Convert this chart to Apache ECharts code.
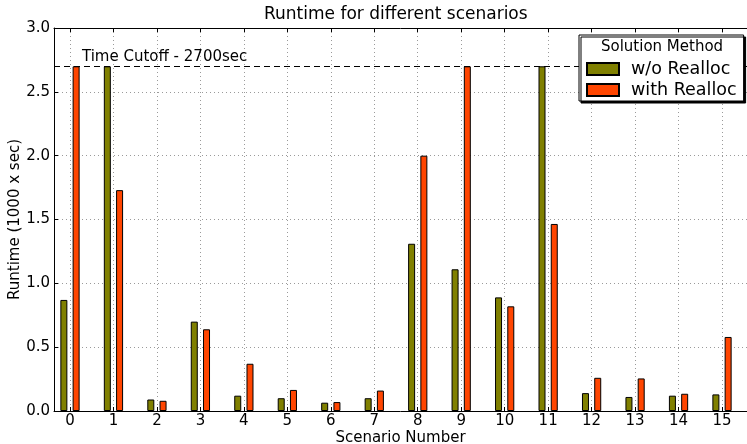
<!DOCTYPE html>
<html>
<head>
<meta charset="utf-8">
<script src="https://cdn.jsdelivr.net/npm/echarts@6/dist/echarts.min.js"></script>
<style>html,body{margin:0;padding:0;background:#fff;}#c{width:747px;height:444px;}</style>
</head>
<body>
<div id="c"></div>
<script>
const scenarios = [0, 1, 2, 3, 4, 5, 6, 7, 8, 9, 10, 11, 12, 13, 14, 15];
const woRealloc = [0.87, 2.70, 0.09, 0.70, 0.12, 0.10, 0.065, 0.10, 1.31, 1.11, 0.89, 2.70, 0.14, 0.11, 0.12, 0.13];
const withRealloc = [2.70, 1.73, 0.08, 0.64, 0.37, 0.165, 0.07, 0.16, 2.00, 2.70, 0.82, 1.465, 0.26, 0.255, 0.135, 0.58];
const yTicks = [0, 0.5, 1.0, 1.5, 2.0, 2.5, 3.0];
const cutoff = 2.7;

const FONT = 'DejaVu Sans';
const chart = echarts.init(document.getElementById('c'), null, {renderer: 'canvas'});
const xMin = -0.368, xMax = 15.575;
const gridStyle = {show: true, lineStyle: {color: '#9a9a9a', type: [1, 3], width: 1}};

chart.setOption({
  animation: false,
  backgroundColor: '#fff',
  title: [
    {text: 'Runtime for different scenarios', left: 264, top: 6, padding: 0,
     textStyle: {fontFamily: FONT, fontSize: 17, fontWeight: 'normal', color: '#000'}},
    {text: 'Solution Method', left: 601, top: 40, padding: 0, z: 30,
     textStyle: {fontFamily: FONT, fontSize: 15, fontWeight: 'normal', color: '#000'}}
  ],
  legend: {
    orient: 'vertical', left: 579, top: 35, z: 20,
    padding: [25, 7, 2, 7], itemGap: 3,
    itemWidth: 32, itemHeight: 12, icon: 'rect',
    backgroundColor: '#fff', borderColor: '#000', borderWidth: 1,
    shadowColor: '#000', shadowBlur: 0, shadowOffsetX: 2, shadowOffsetY: 2,
    textStyle: {fontFamily: FONT, fontSize: 17.5, color: '#000', padding: [0, 0, 0, 7], lineHeight: 18},
    data: ['w/o Realloc', 'with Realloc']
  },
  grid: {left: 54, top: 28, width: 693, bottom: 33, containLabel: false, outerBoundsMode: 'none'},
  xAxis: [
    {type: 'value', min: xMin, max: xMax,
     name: 'Scenario Number', nameLocation: 'middle', nameGap: 20, nameMoveOverlap: false,
     nameTextStyle: {fontFamily: FONT, fontSize: 15, color: '#000'},
     axisLine: {show: true, onZero: false, lineStyle: {color: '#000', width: 1}},
     axisTick: {show: true, inside: true, length: 4, customValues: scenarios, lineStyle: {color: '#000'}},
     axisLabel: {show: true, customValues: scenarios, margin: 3, fontFamily: FONT, fontSize: 15, color: '#000',
                 formatter: v => String(Math.round(v))},
     splitLine: gridStyle},
    {type: 'value', min: xMin, max: xMax, position: 'top',
     axisLine: {show: true, onZero: false, lineStyle: {color: '#000', width: 1}},
     axisTick: {show: true, inside: true, length: 4, customValues: scenarios, lineStyle: {color: '#000'}},
     axisLabel: {show: false, customValues: scenarios},
     splitLine: {show: false}}
  ],
  yAxis: {
    type: 'value', min: 0, max: 3, interval: 0.5,
    name: 'Runtime (1000 x sec)', nameLocation: 'middle', nameGap: 31, nameMoveOverlap: false,
    nameTextStyle: {fontFamily: FONT, fontSize: 15, color: '#000'},
    axisLine: {show: true, onZero: false, lineStyle: {color: '#000', width: 1}},
    axisTick: {show: true, inside: true, length: 4, lineStyle: {color: '#000'}},
    axisLabel: {margin: 4, fontFamily: FONT, fontSize: 15, color: '#000', formatter: v => v.toFixed(1)},
    splitLine: gridStyle
  },
  series: [
    {name: 'w/o Realloc', type: 'bar', xAxisIndex: 0, barWidth: 7, barGap: '75%',
     data: scenarios.map((s, i) => [s, woRealloc[i]]),
     itemStyle: {color: '#808000', borderColor: '#000', borderWidth: 1},
     markLine: {silent: true, symbol: ['none', 'none'], z: 3,
       lineStyle: {color: '#000', type: [6, 4], width: 1},
       label: {show: true, position: 'insideStartTop', distance: [28, 2], formatter: 'Time Cutoff - 2700sec',
               fontFamily: FONT, fontSize: 15, color: '#000'},
       data: [{yAxis: cutoff}]}},
    {name: 'with Realloc', type: 'bar', xAxisIndex: 0, barWidth: 7, barGap: '75%',
     data: scenarios.map((s, i) => [s, withRealloc[i]]),
     itemStyle: {color: '#ff4500', borderColor: '#000', borderWidth: 1}}
  ]
});
</script>
</body>
</html>
